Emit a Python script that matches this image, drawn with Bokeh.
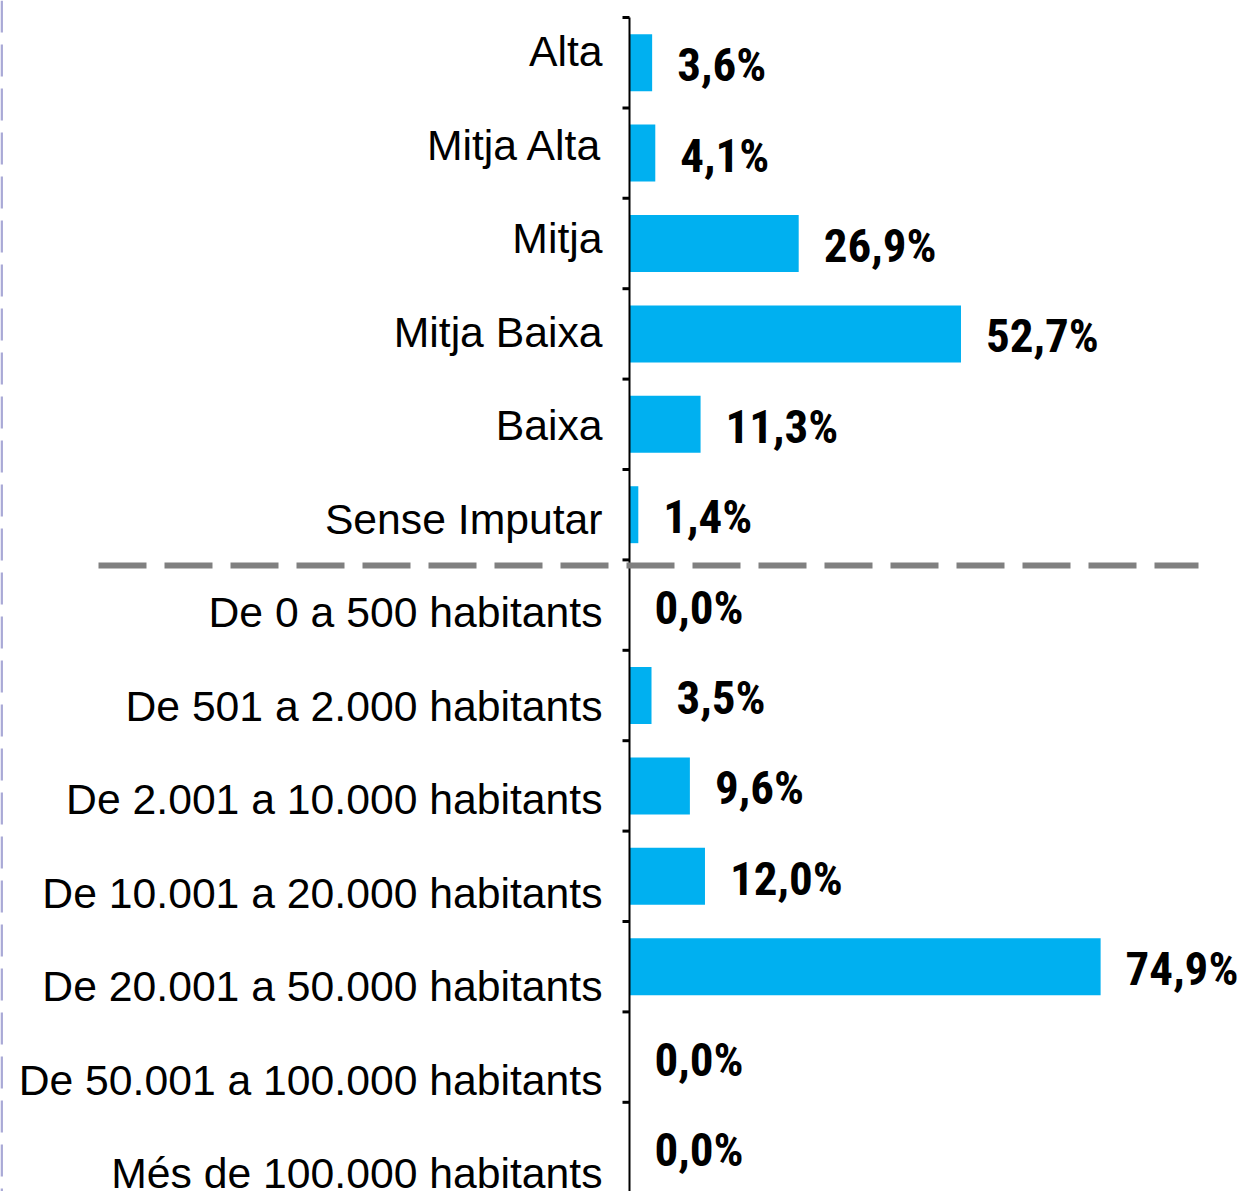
from bokeh.plotting import figure
from bokeh.models import ColumnDataSource, Range1d, Span
from bokeh.core.properties import value
from bokeh.embed import file_html
from bokeh.resources import INLINE

# ---- data ----
categories = [
    "Alta", "Mitja Alta", "Mitja", "Mitja Baixa", "Baixa", "Sense Imputar",
    "De 0 a 500 habitants", "De 501 a 2.000 habitants",
    "De 2.001 a 10.000 habitants", "De 10.001 a 20.000 habitants",
    "De 20.001 a 50.000 habitants", "De 50.001 a 100.000 habitants",
    "Més de 100.000 habitants",
]
values = [3.6, 4.1, 26.9, 52.7, 11.3, 1.4, 0.0, 3.5, 9.6, 12.0, 74.9, 0.0, 0.0]
group_sizes = [6, 7]  # first block (renda), second block (habitants)

value_labels = [f"{v:.1f}".replace(".", ",") + "%" for v in values]
idx = list(range(len(categories)))

# ---- geometry (pixels) ----
W, H = 1240, 1191
px_per_unit = 6.29
axis_px = 629
xmin = -axis_px / px_per_unit
xmax = (W - axis_px) / px_per_unit

def ypx_to_k(yp, c0, step):
    return (yp - c0) / step
main_top = ypx_to_k(0, 62.2, 90.4)
main_bot = ypx_to_k(H, 62.2, 90.4)
lab_top = ypx_to_k(0, 50.5, 93.5)
lab_bot = ypx_to_k(H, 50.5, 93.5)

p = figure(width=W, height=H, output_backend="svg", toolbar_location=None,
           x_range=Range1d(xmin, xmax), y_range=Range1d(main_bot, main_top),
           x_axis_location=None, y_axis_location=None, min_border=0,
           outline_line_color=None, background_fill_color="white",
           border_fill_color="white")
p.extra_y_ranges = {"labels": Range1d(lab_bot, lab_top)}
p.grid.visible = False

src = ColumnDataSource(dict(y=idx, v=values, lab=value_labels, cat=categories,
                            zero=[0] * len(idx)))

# left purple dashed border
p.add_layout(Span(location=xmin + 1.2 / px_per_unit, dimension="height",
                  line_color="#a9a9d6", line_width=2.5, line_dash="32 12"))

# bars
p.hbar(y="y", left="zero", right="v", height=0.63, source=src,
       fill_color="#00B0F0", line_color=None)

# axis line & ticks
n = len(categories)
p.segment(x0=[0], y0=[-0.5], x1=[0], y1=[n - 0.5], line_color="black", line_width=2)
bounds = [k - 0.5 for k in range(n + 1)]
p.segment(x0=[-7 / px_per_unit] * len(bounds), y0=bounds, x1=[0] * len(bounds),
          y1=bounds, line_color="black", line_width=3)

# separator between the two groups
sep_y = group_sizes[0] - 0.5 + 5.5 / 90.4
p.segment(x0=[(98 - axis_px) / px_per_unit], y0=[sep_y],
          x1=[(1198 - axis_px) / px_per_unit], y1=[sep_y],
          line_color="#808080", line_width=6, line_dash="48 18")

# value labels
p.text(x="v", y="y", text="lab", source=src, x_offset=25, y_offset=2,
       text_font=value("Roboto Condensed, Roboto, sans-serif"),
       text_font_style="bold", text_font_size="47px", text_color="black",
       text_align="left", text_baseline="middle")

# category labels
p.text(x="zero", y="y", text="cat", source=src, y_range_name="labels",
       x_offset=-27, text_font=value("Liberation Sans, Arial, sans-serif"),
       text_font_size="42.7px", text_color="black",
       text_align="right", text_baseline="middle")

open("out.html", "w").write(file_html(p, INLINE))
